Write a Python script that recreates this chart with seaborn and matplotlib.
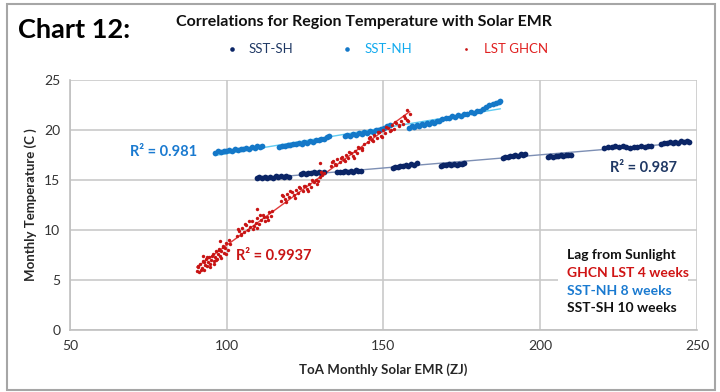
import pandas as pd
import seaborn as sns
from matplotlib import pyplot as plt
from matplotlib.patches import Rectangle

# SST-SH, southern hemisphere sea surface, one block per cluster
sh_x = [109.6, 110.4, 111.3, 112.1, 113.0, 113.8, 114.7, 115.6, 116.4, 117.3, 118.2, 119.0, 119.9,
        123.6, 124.4, 125.2, 126.0, 126.9, 127.7, 128.5, 129.4, 130.2, 130.9,
        135.3, 136.1, 137.0, 137.8, 138.6, 139.5, 140.3, 141.1, 142.0, 142.7,
        152.9, 153.7, 154.6, 155.4, 156.2, 157.1, 157.9, 158.7, 159.6, 160.6,
        168.3, 169.1, 169.9, 170.8, 171.6, 172.4, 173.3, 174.1, 174.9, 175.6,
        188.0, 188.8, 189.6, 190.5, 191.3, 192.1, 193.0, 193.8, 194.6, 195.3,
        202.4, 203.2, 204.0, 204.9, 205.7, 206.5, 207.4, 208.2, 209.0, 209.7,
        220.5, 221.6, 222.8, 224.0, 225.1, 226.3, 227.5, 228.6, 229.8, 231.0, 232.1, 233.3, 234.5, 235.3,
        238.6, 239.5, 240.4, 241.3, 242.2, 243.1, 244.0, 244.9, 245.8, 246.7, 247.4]
sh_y = [15.20, 15.28, 15.18, 15.30, 15.24, 15.33, 15.22, 15.36, 15.28, 15.38, 15.30, 15.42, 15.35,
        15.62, 15.70, 15.64, 15.74, 15.68, 15.78, 15.70, 15.82, 15.74, 15.80,
        15.76, 15.84, 15.78, 15.88, 15.82, 15.92, 15.85, 15.96, 15.88, 15.94,
        16.22, 16.32, 16.28, 16.42, 16.36, 16.50, 16.44, 16.62, 16.55, 16.70,
        16.42, 16.50, 16.46, 16.56, 16.50, 16.60, 16.54, 16.64, 16.58, 16.66,
        17.24, 17.34, 17.30, 17.44, 17.38, 17.50, 17.42, 17.58, 17.48, 17.56,
        17.30, 17.36, 17.32, 17.42, 17.38, 17.46, 17.40, 17.52, 17.46, 17.54,
        18.22, 18.30, 18.26, 18.36, 18.30, 18.40, 18.28, 18.22, 18.34, 18.26, 18.38, 18.30, 18.42, 18.36,
        18.62, 18.70, 18.66, 18.76, 18.70, 18.80, 18.74, 18.86, 18.78, 18.90, 18.84]

# SST-NH
nh_x = [96.3, 97.2, 98.1, 99.0, 99.9, 100.8, 101.7, 102.6, 103.5, 104.4, 105.3, 106.2, 107.1, 108.0, 108.9, 109.8, 110.7, 111.3,
        116.7, 117.6, 118.5, 119.4, 120.3, 121.2, 122.1, 123.0, 123.9, 124.8, 125.7, 126.6, 127.5, 128.4, 129.3, 130.2, 131.1, 132.0, 132.6,
        137.6, 138.5, 139.4, 140.3, 141.2, 142.1, 143.0, 143.9, 144.8, 145.7, 146.6, 147.5, 148.4, 149.3, 150.2, 151.1, 152.0,
        158.2, 159.0, 159.8, 160.6, 161.4, 162.2, 163.0, 163.8, 164.6, 165.4, 166.2, 167.0, 167.8,
        168.8, 169.8, 170.8, 171.8, 172.8, 173.8, 174.8, 175.8, 176.8, 177.8, 178.8, 179.8, 180.8, 181.8, 182.8, 183.8, 184.8, 185.8, 186.8, 187.3]
nh_y = [17.72, 17.86, 17.80, 17.92, 17.86, 18.00, 17.94, 18.06, 18.00, 18.12, 18.06, 18.18, 18.12, 18.26, 18.20, 18.36, 18.28, 18.42,
        18.32, 18.44, 18.40, 18.52, 18.48, 18.60, 18.56, 18.70, 18.64, 18.78, 18.74, 18.88, 18.84, 19.00, 18.96, 19.14, 19.10, 19.30, 19.42,
        19.36, 19.48, 19.44, 19.56, 19.52, 19.66, 19.62, 19.76, 19.72, 19.88, 19.84, 20.00, 19.96, 20.14, 20.20, 20.36, 20.50,
        20.22, 20.40, 20.32, 20.50, 20.44, 20.60, 20.54, 20.70, 20.62, 20.80, 20.74, 20.92, 20.86,
        21.06, 21.24, 21.16, 21.36, 21.30, 21.50, 21.42, 21.62, 21.56, 21.76, 21.70, 21.92, 21.86, 22.10, 22.30, 22.46, 22.58, 22.70, 22.82, 22.90]

# LST GHCN (land)
lst_x = [90.4, 90.9, 91.3, 91.6, 92.0, 92.3, 92.7, 93.0, 93.4, 93.7, 94.1, 94.4, 94.8, 95.1, 95.5, 95.8, 96.2, 96.5, 96.9, 97.2,
         97.6, 97.9, 98.3, 98.7, 99.1, 99.5, 99.9, 100.4, 100.9,
         90.7, 91.8, 92.9, 93.6, 94.6, 95.3, 96.0, 96.7, 97.4, 98.1, 98.9, 99.7, 100.6,
         103.2, 103.8, 104.4, 105.0, 105.6, 106.2, 106.8, 107.4, 108.0, 108.6, 109.2, 109.8, 110.4, 111.0, 111.6, 112.2, 112.8, 113.4, 114.0,
         103.5, 104.7, 105.9, 107.1, 108.3, 109.5, 110.7, 111.9, 113.1, 114.3,
         117.2, 117.9, 118.6, 119.3, 120.0, 120.7, 121.4, 122.1, 122.8, 123.5, 124.2, 124.9, 125.6, 126.3, 127.0, 127.7, 128.4, 129.1,
         129.8, 130.5, 131.0,
         117.5, 118.9, 120.3, 121.7, 123.1, 124.5, 125.9, 127.3, 128.7, 130.1,
         133.2, 133.9, 134.6, 135.3, 136.0, 136.7, 137.4, 138.1, 138.8, 139.5, 140.2, 140.9, 141.6, 142.3, 143.0, 143.7,
         133.5, 134.9, 136.3, 137.7, 139.1, 140.5, 141.9, 143.3,
         145.0, 145.7, 146.4, 147.1, 147.8, 148.5, 149.2, 149.9, 150.6, 151.3, 152.0, 152.7, 153.4, 154.1, 154.8, 155.5, 156.2, 156.9,
         157.6, 158.4,
         145.3, 146.7, 148.1, 149.5, 150.9, 152.3, 153.7, 155.1, 156.5, 157.9,
         109.6, 129.9, 157.5, 92.5, 98.0]
lst_y = [5.9, 6.4, 5.8, 6.6, 6.2, 6.9, 6.0, 6.5, 7.1, 6.4, 6.8, 7.3, 6.6, 7.0, 7.6, 6.9, 7.3, 7.9, 7.1, 7.6,
         8.1, 7.4, 7.9, 8.4, 7.7, 8.2, 8.7, 8.0, 8.6,
         6.3, 6.0, 6.8, 7.3, 6.3, 7.4, 6.6, 7.0, 8.0, 7.2, 8.3, 7.6, 9.0,
         9.4, 9.9, 9.6, 10.2, 9.8, 10.5, 10.0, 10.3, 10.9, 10.4, 10.7, 11.2, 10.6, 11.0, 11.5, 10.9, 11.3, 11.8, 11.4,
         10.1, 9.5, 10.6, 10.9, 10.1, 10.2, 11.5, 11.3, 11.0, 11.9,
         12.9, 13.4, 13.1, 13.6, 13.3, 13.8, 13.5, 14.0, 13.7, 14.2, 13.9, 14.4, 14.1, 14.6, 14.3, 14.8, 15.0, 14.9,
         15.3, 15.5, 15.7,
         13.5, 12.8, 13.9, 13.2, 14.3, 14.4, 13.9, 15.0, 14.6, 15.8,
         16.4, 16.9, 16.6, 17.1, 16.8, 17.3, 17.0, 17.5, 17.2, 17.7, 17.4, 17.9, 17.7, 18.2, 18.0, 18.6,
         16.8, 16.5, 17.2, 16.9, 17.8, 17.2, 18.3, 18.2,
         18.8, 19.3, 19.0, 19.5, 19.2, 19.8, 19.4, 20.0, 19.7, 20.2, 19.9, 20.5, 20.1, 20.7, 20.4, 20.9, 20.6, 21.2,
         21.0, 21.6,
         19.2, 18.9, 19.8, 19.3, 20.3, 20.0, 20.8, 20.5, 21.4, 20.9,
         12.1, 16.7, 22.0, 7.4, 8.9]

series = ["SST-SH", "SST-NH", "LST GHCN"]
dot_colors = {"SST-SH": "#0b2566", "SST-NH": "#1478c8", "LST GHCN": "#c81414"}
fit_colors = {"SST-SH": "#7d8fb4", "SST-NH": "#5ecbf2", "LST GHCN": "#e03a3a"}
legend_colors = {"SST-SH": "#1f3864", "SST-NH": "#12aaee", "LST GHCN": "#e02020"}
r2_labels = {"SST-SH": "R² = 0.987", "SST-NH": "R² = 0.981", "LST GHCN": "R² = 0.9937"}
lag_lines = ["Lag from Sunlight", "GHCN LST 4 weeks", "SST-NH 8 weeks", "SST-SH 10 weeks"]
lag_colors = ["#111111", "#d01414", "#1a7ad0", "#111111"]

data = {
    "SST-SH": pd.DataFrame({"emr": sh_x, "temp": sh_y}),
    "SST-NH": pd.DataFrame({"emr": nh_x, "temp": nh_y}),
    "LST GHCN": pd.DataFrame({"emr": lst_x, "temp": lst_y}),
}

sns.set_style("white")
plt.rcParams["font.family"] = ["Lato", "DejaVu Sans"]

fig = plt.figure(figsize=(7.2, 3.92), dpi=100)
ax = fig.add_axes([0.0972, 0.158, 0.8708, 0.638])

for s in series:
    df = data[s]
    sns.regplot(data=df, x="emr", y="temp", ax=ax, scatter=False, ci=None, truncate=True,
                line_kws={"color": fit_colors[s], "lw": 1.0, "zorder": 2})
    sns.scatterplot(data=df, x="emr", y="temp", ax=ax, color=dot_colors[s], label=s,
                    s=6 if s == "LST GHCN" else 17, linewidth=0, zorder=3)

ax.set_xlim(50, 250)
ax.set_ylim(0, 25)
ax.set_xticks([50, 100, 150, 200, 250])
ax.set_yticks([0, 5, 10, 15, 20, 25])
ax.grid(True, color="#c9c9c9", lw=1.2, zorder=0)
ax.set_axisbelow(True)
for side in ["top", "right"]:
    ax.spines[side].set_visible(False)
for side in ["left", "bottom"]:
    ax.spines[side].set_color("#c0c0c0")
    ax.spines[side].set_linewidth(1.2)
ax.tick_params(length=4, color="#c0c0c0", labelsize=10, labelcolor="#333333", pad=3)

ax.set_xlabel("ToA Monthly Solar EMR (ZJ)", fontsize=9.5, fontweight="bold", labelpad=8)
ax.set_ylabel("Monthly Temperature (C )", fontsize=9.5, fontweight="bold", labelpad=5)

# R squared labels
ax.text(80, 17.8, r2_labels["SST-NH"], color="#1a7ad0", fontsize=10.5, fontweight="bold", ha="center", va="center")
ax.text(233, 16.2, r2_labels["SST-SH"], color="#1f3864", fontsize=10.5, fontweight="bold", ha="center", va="center")
ax.text(115, 7.4, r2_labels["LST GHCN"], color="#c81414", fontsize=10.5, fontweight="bold", ha="center", va="center")

# lag box
ax.add_patch(Rectangle((205.6, 0.8), 41.5, 8.2, facecolor="white", edgecolor="none", zorder=4))
for i, (txt, c) in enumerate(zip(lag_lines, lag_colors)):
    ax.text(208.5, 7.5 - i * 1.78, txt, color=c, fontsize=10, fontweight="bold", va="center", ha="left", zorder=5)

# legend above the plot
handles, labels = ax.get_legend_handles_labels()
ax.legend_.remove()
leg = fig.legend(handles, labels, loc="center", bbox_to_anchor=(0.532, 0.876), ncol=3, frameon=False,
                 columnspacing=3.1, handletextpad=0.3, markerscale=0.8, fontsize=9.5)
for t in leg.get_texts():
    t.set_color(legend_colors[t.get_text()])

fig.text(0.025, 0.923, "Chart 12:", fontsize=19.5, fontweight="bold", color="black", va="center")
fig.text(0.505, 0.944, "Correlations for Region Temperature with Solar EMR", fontsize=11.5,
         fontweight="bold", color="#111111", va="center", ha="center")

fig.patches.append(Rectangle((0.0097, 0.005), 0.9833, 0.985, transform=fig.transFigure,
                             fill=False, edgecolor="#a6a6a6", lw=1.5))

fig.savefig("out.png", dpi=100)
